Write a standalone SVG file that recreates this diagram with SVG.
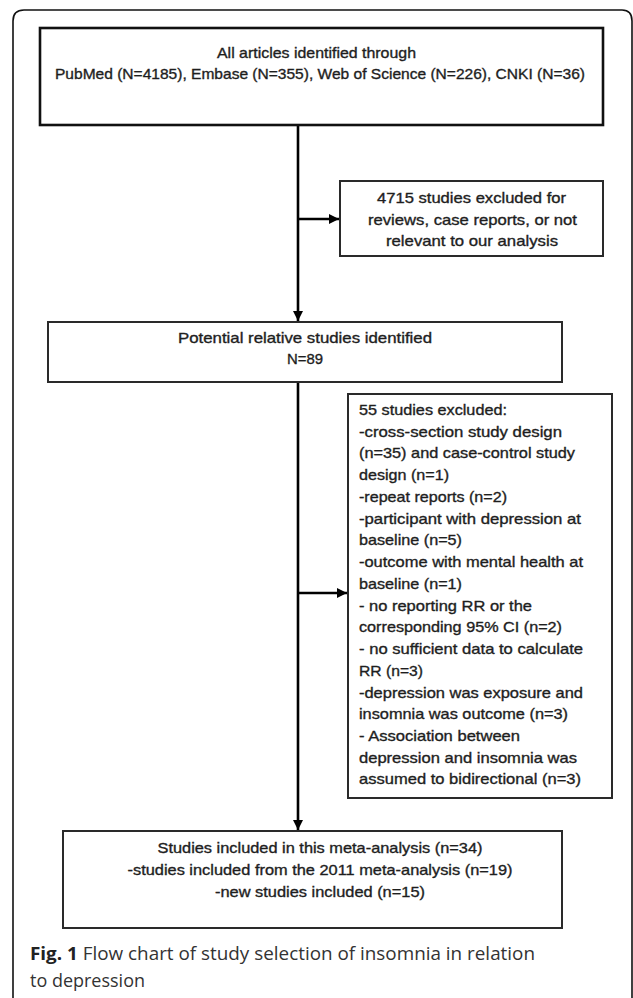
<svg xmlns="http://www.w3.org/2000/svg" width="633" height="998" viewBox="0 0 633 998">
<style>
.box{fill:#fff;stroke:#2a2a2a;stroke-width:2}
.t{font-family:"Liberation Sans",Arial,sans-serif;font-size:15px;fill:#1e1e1e;stroke:#1e1e1e;stroke-width:0.35}
.c{text-anchor:middle}
.conn{stroke:#000;stroke-width:2.6;fill:none}
.cap{font-family:"Open Sans","Noto Sans",sans-serif;font-size:18px;fill:#333}
</style>
<defs>
<marker id="ah" markerUnits="userSpaceOnUse" markerWidth="10" markerHeight="10" refX="10" refY="5" orient="auto">
<path d="M0,0 L10,5 L0,10 z" fill="#000"/>
</marker>
</defs>
<rect width="633" height="998" fill="#fff"/>
<path d="M13,998 V21 Q13,10 24,10 H622 Q632,10 632,21 V998" fill="none" stroke="#111" stroke-width="1.6"/>

<g id="connectors">
<line class="conn" x1="298" y1="125" x2="298" y2="321" marker-end="url(#ah)"/>
<line class="conn" x1="298" y1="219" x2="339" y2="219" marker-end="url(#ah)"/>
<line class="conn" x1="298" y1="382" x2="298" y2="830" marker-end="url(#ah)"/>
<line class="conn" x1="298" y1="593" x2="347" y2="593" marker-end="url(#ah)"/>
</g>

<g id="n1">
<rect class="box" x="40" y="28" width="563" height="97" style="stroke:#111;stroke-width:2.6"/>
<text class="t c" x="316.5" y="58" textLength="199" lengthAdjust="spacingAndGlyphs">All articles identified through</text>
<text class="t c" x="320" y="79" textLength="530" lengthAdjust="spacingAndGlyphs">PubMed (N=4185), Embase (N=355), Web of Science (N=226), CNKI (N=36)</text>
</g>

<g id="n2">
<rect class="box" x="340" y="181" width="263" height="75"/>
<text class="t c" x="471.5" y="203" textLength="189" lengthAdjust="spacingAndGlyphs">4715 studies excluded for</text>
<text class="t c" x="472.5" y="225" textLength="209" lengthAdjust="spacingAndGlyphs">reviews, case reports, or not</text>
<text class="t c" x="472" y="246" textLength="172" lengthAdjust="spacingAndGlyphs">relevant to our analysis</text>
</g>

<g id="n3">
<rect class="box" x="48" y="322" width="514" height="60"/>
<text class="t c" x="305" y="343" textLength="254" lengthAdjust="spacingAndGlyphs">Potential relative studies identified</text>
<text class="t c" x="305" y="364" textLength="36" lengthAdjust="spacingAndGlyphs">N=89</text>
</g>

<g id="n4">
<rect class="box" x="348" y="394" width="264" height="404"/>
<text class="t" x="359" y="415" textLength="148" lengthAdjust="spacingAndGlyphs">55 studies excluded:</text>
<text class="t" x="359" y="437" textLength="203" lengthAdjust="spacingAndGlyphs">-cross-section study design</text>
<text class="t" x="359" y="458" textLength="216" lengthAdjust="spacingAndGlyphs">(n=35) and case-control study</text>
<text class="t" x="359" y="480" textLength="90" lengthAdjust="spacingAndGlyphs">design (n=1)</text>
<text class="t" x="359" y="502" textLength="148" lengthAdjust="spacingAndGlyphs">-repeat reports (n=2)</text>
<text class="t" x="359" y="524" textLength="222" lengthAdjust="spacingAndGlyphs">-participant with depression at</text>
<text class="t" x="359" y="545" textLength="103" lengthAdjust="spacingAndGlyphs">baseline (n=5)</text>
<text class="t" x="359" y="567" textLength="224" lengthAdjust="spacingAndGlyphs">-outcome with mental health at</text>
<text class="t" x="359" y="589" textLength="103" lengthAdjust="spacingAndGlyphs">baseline (n=1)</text>
<text class="t" x="359" y="611" textLength="173" lengthAdjust="spacingAndGlyphs">- no reporting RR or the</text>
<text class="t" x="359" y="632" textLength="203" lengthAdjust="spacingAndGlyphs">corresponding 95% CI (n=2)</text>
<text class="t" x="359" y="654" textLength="224" lengthAdjust="spacingAndGlyphs">- no sufficient data to calculate</text>
<text class="t" x="359" y="676" textLength="64" lengthAdjust="spacingAndGlyphs">RR (n=3)</text>
<text class="t" x="359" y="698" textLength="224" lengthAdjust="spacingAndGlyphs">-depression was exposure and</text>
<text class="t" x="359" y="719" textLength="209" lengthAdjust="spacingAndGlyphs">insomnia was outcome (n=3)</text>
<text class="t" x="359" y="741" textLength="161" lengthAdjust="spacingAndGlyphs">- Association between</text>
<text class="t" x="359" y="763" textLength="218" lengthAdjust="spacingAndGlyphs">depression and insomnia was</text>
<text class="t" x="359" y="784" textLength="222" lengthAdjust="spacingAndGlyphs">assumed to bidirectional (n=3)</text>
</g>

<g id="n5">
<rect class="box" x="63" y="831" width="499" height="97"/>
<text class="t c" x="320" y="853" textLength="325" lengthAdjust="spacingAndGlyphs">Studies included in this meta-analysis (n=34)</text>
<text class="t c" x="320" y="875" textLength="385" lengthAdjust="spacingAndGlyphs">-studies included from the 2011 meta-analysis (n=19)</text>
<text class="t c" x="320" y="897" textLength="210" lengthAdjust="spacingAndGlyphs">-new studies included (n=15)</text>
</g>

<g id="caption">
<text class="cap" x="30" y="960" textLength="505" lengthAdjust="spacingAndGlyphs"><tspan font-weight="bold" fill="#222">Fig. 1</tspan> Flow chart of study selection of insomnia in relation</text>
<text class="cap" x="30" y="987" textLength="115" lengthAdjust="spacingAndGlyphs">to depression</text>
</g>
</svg>
